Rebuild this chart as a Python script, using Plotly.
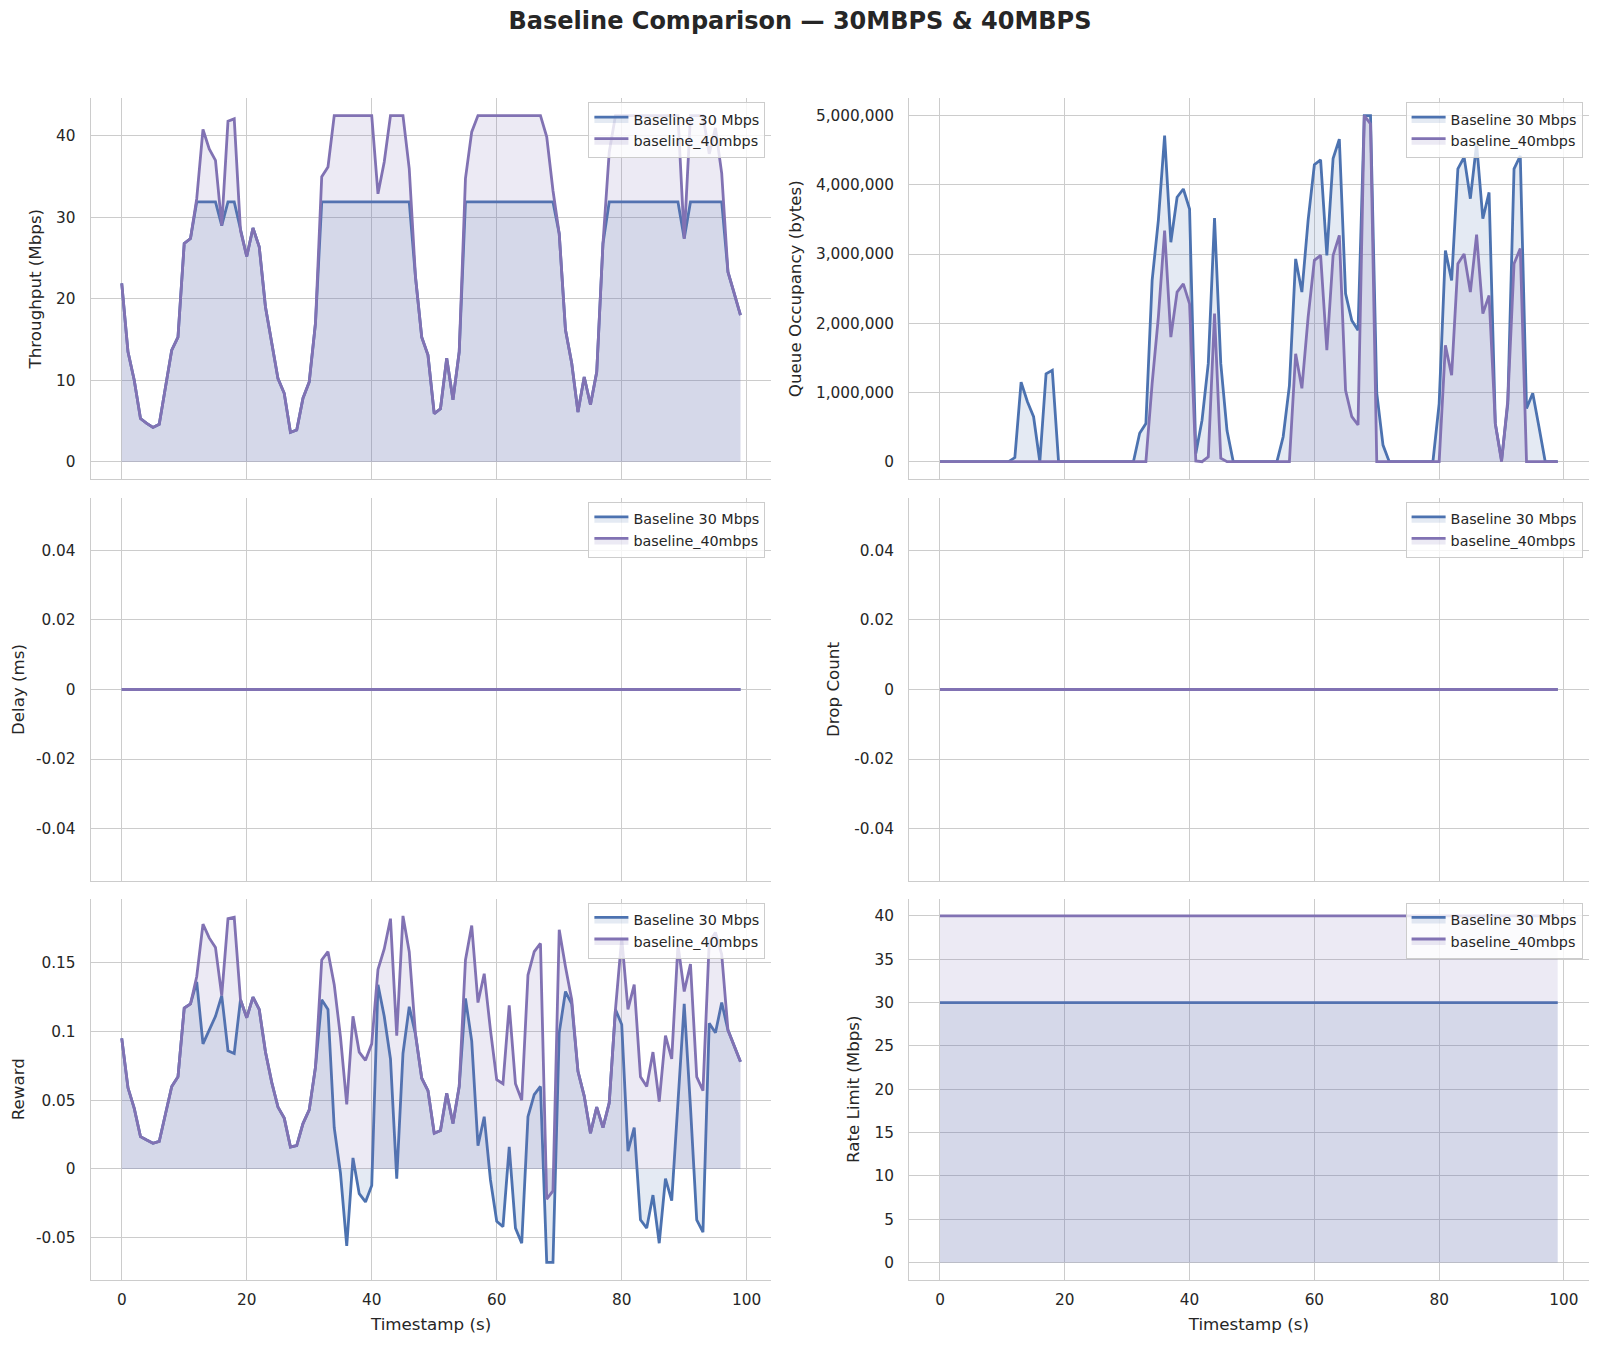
import plotly.graph_objects as go
from plotly.subplots import make_subplots

# ---- data ----
timestamps = list(range(100))

thr_30 = [21.9, 13.5, 10.0, 5.3, 4.7, 4.2, 4.6, 9.2, 13.7, 15.3,
          26.8, 27.4, 31.9, 31.9, 31.9, 31.9, 29.0, 31.9, 31.9, 28.4,
          25.2, 28.7, 26.4, 19.0, 14.5, 10.2, 8.4, 3.6, 3.9, 7.8,
          9.8, 17.0, 31.9, 31.9, 31.9, 31.9, 31.9, 31.9, 31.9, 31.9,
          31.9, 31.9, 31.9, 31.9, 31.9, 31.9, 31.9, 22.7, 15.3, 13.1,
          5.9, 6.5, 12.7, 7.6, 13.5, 31.9, 31.9, 31.9, 31.9, 31.9,
          31.9, 31.9, 31.9, 31.9, 31.9, 31.9, 31.9, 31.9, 31.9, 31.9,
          28.0, 16.2, 12.1, 6.1, 10.4, 7.0, 11.0, 26.8, 31.9, 31.9,
          31.9, 31.9, 31.9, 31.9, 31.9, 31.9, 31.9, 31.9, 31.9, 31.9,
          27.4, 31.9, 31.9, 31.9, 31.9, 31.9, 31.9, 23.3, 20.7, 18.0]

thr_40 = [21.9, 13.5, 10.0, 5.3, 4.7, 4.2, 4.6, 9.2, 13.7, 15.3,
          26.8, 27.4, 32.3, 40.8, 38.4, 37.0, 29.0, 41.8, 42.1, 28.4,
          25.2, 28.7, 26.4, 19.0, 14.5, 10.2, 8.4, 3.6, 3.9, 7.8,
          9.8, 17.0, 35.0, 36.2, 42.5, 42.5, 42.5, 42.5, 42.5, 42.5,
          42.5, 32.9, 36.8, 42.5, 42.5, 42.5, 36.0, 22.7, 15.3, 13.1,
          5.9, 6.5, 12.7, 7.6, 13.5, 34.8, 40.5, 42.5, 42.5, 42.5,
          42.5, 42.5, 42.5, 42.5, 42.5, 42.5, 42.5, 42.5, 39.9, 33.3,
          28.0, 16.2, 12.1, 6.1, 10.4, 7.0, 11.0, 26.8, 38.0, 42.5,
          42.5, 42.5, 42.5, 42.5, 42.5, 42.5, 42.5, 42.5, 42.5, 42.5,
          27.4, 42.5, 42.5, 42.5, 37.8, 41.0, 35.4, 23.3, 20.7, 18.0]

queue_30 = [0, 0, 0, 0, 0, 0, 0, 0, 0, 0,
            0, 0, 60000, 1150000, 870000, 650000, 0, 1270000, 1320000, 0,
            0, 0, 0, 0, 0, 0, 0, 0, 0, 0,
            0, 0, 410000, 550000, 2620000, 3490000, 4710000, 3170000, 3820000, 3940000,
            3650000, 120000, 600000, 1420000, 3520000, 1420000, 450000, 0, 0, 0,
            0, 0, 0, 0, 0, 360000, 1100000, 2930000, 2450000, 3490000,
            4290000, 4360000, 2980000, 4380000, 4660000, 2430000, 2040000, 1900000, 5000000, 5000000,
            990000, 240000, 0, 0, 0, 0, 0, 0, 0, 0,
            840000, 3050000, 2620000, 4230000, 4400000, 3800000, 4590000, 3510000, 3890000, 550000,
            20000, 840000, 4230000, 4420000, 770000, 990000, 500000, 0, 0, 0]

queue_40 = [0, 0, 0, 0, 0, 0, 0, 0, 0, 0,
            0, 0, 0, 0, 0, 0, 0, 0, 0, 0,
            0, 0, 0, 0, 0, 0, 0, 0, 0, 0,
            0, 0, 0, 0, 1130000, 2090000, 3340000, 1800000, 2450000, 2570000,
            2280000, 10000, 0, 70000, 2140000, 50000, 0, 0, 0, 0,
            0, 0, 0, 0, 0, 0, 0, 1560000, 1060000, 2090000,
            2910000, 2980000, 1610000, 2980000, 3270000, 1030000, 650000, 530000, 5000000, 4880000,
            0, 0, 0, 0, 0, 0, 0, 0, 0, 0,
            0, 1680000, 1250000, 2860000, 3000000, 2450000, 3280000, 2140000, 2400000, 550000,
            0, 890000, 2860000, 3080000, 0, 0, 0, 0, 0, 0]

delay_30 = [0.0] * 100
delay_40 = [0.0] * 100
drops_30 = [0] * 100
drops_40 = [0] * 100

reward_30 = [0.095, 0.059, 0.044, 0.0235, 0.021, 0.0187, 0.020, 0.039, 0.060, 0.067,
             0.117, 0.120, 0.136, 0.091, 0.101, 0.111, 0.126, 0.086, 0.084, 0.123,
             0.110, 0.125, 0.116, 0.085, 0.063, 0.045, 0.037, 0.016, 0.017, 0.033,
             0.043, 0.074, 0.123, 0.116, 0.030, -0.003, -0.056, 0.008, -0.018, -0.024,
             -0.012, 0.134, 0.111, 0.080, -0.007, 0.084, 0.118, 0.098, 0.066, 0.057,
             0.026, 0.028, 0.055, 0.033, 0.060, 0.124, 0.093, 0.017, 0.038, -0.008,
             -0.038, -0.042, 0.016, -0.043, -0.054, 0.038, 0.054, 0.060, -0.068, -0.068,
             0.099, 0.129, 0.120, 0.071, 0.053, 0.026, 0.045, 0.030, 0.048, 0.116,
             0.105, 0.013, 0.030, -0.037, -0.043, -0.019, -0.054, -0.007, -0.023, 0.050,
             0.120, 0.045, -0.037, -0.046, 0.106, 0.099, 0.121, 0.101, 0.089, 0.078]

reward_40 = [0.095, 0.059, 0.044, 0.0235, 0.021, 0.0187, 0.020, 0.039, 0.060, 0.067,
             0.117, 0.120, 0.140, 0.178, 0.168, 0.161, 0.126, 0.182, 0.183, 0.123,
             0.110, 0.125, 0.116, 0.085, 0.063, 0.045, 0.037, 0.016, 0.017, 0.033,
             0.043, 0.074, 0.152, 0.158, 0.134, 0.096, 0.047, 0.111, 0.085, 0.079,
             0.091, 0.145, 0.160, 0.182, 0.097, 0.184, 0.158, 0.098, 0.066, 0.057,
             0.026, 0.028, 0.055, 0.033, 0.060, 0.152, 0.177, 0.121, 0.142, 0.101,
             0.065, 0.062, 0.119, 0.062, 0.050, 0.141, 0.158, 0.164, -0.022, -0.016,
             0.174, 0.147, 0.123, 0.071, 0.053, 0.026, 0.045, 0.030, 0.048, 0.116,
             0.168, 0.116, 0.134, 0.067, 0.060, 0.085, 0.049, 0.097, 0.080, 0.163,
             0.129, 0.149, 0.067, 0.057, 0.165, 0.172, 0.156, 0.101, 0.089, 0.078]

rate_30 = [30] * 100
rate_40 = [40] * 100

series_names = ["Baseline 30 Mbps", "baseline_40mbps"]

BLUE = "#4C72B0"
PURPLE = "#8172B3"
FILLS = ["rgba(76,114,176,0.15)", "rgba(129,114,179,0.15)"]
TEXT = "#262626"
GRID = "#cccccc"
FONT = "DejaVu Sans"

panels = [
    (1, 1, thr_30, thr_40, "Throughput (Mbps)"),
    (1, 2, queue_30, queue_40, "Queue Occupancy (bytes)"),
    (2, 1, delay_30, delay_40, "Delay (ms)"),
    (2, 2, drops_30, drops_40, "Drop Count"),
    (3, 1, reward_30, reward_40, "Reward"),
    (3, 2, rate_30, rate_40, "Rate Limit (Mbps)"),
]

fig = make_subplots(rows=3, cols=2)

W, H = 1600, 1345
OFF = 8  # page body margin in the browser
col_px = {1: (90.8, 771.4), 2: (909.1, 1588.6)}
row_px = {1: (98.3, 479.0), 2: (498.0, 881.0), 3: (898.6, 1279.8)}

yranges = {
    (1, 1): [-2.125, 44.625],
    (1, 2): [-250000, 5250000],
    (2, 1): [-0.055, 0.055],
    (2, 2): [-0.055, 0.055],
    (3, 1): [-0.0806, 0.1966],
    (3, 2): [-2, 42],
}

small_vals = [-0.04, -0.02, 0, 0.02, 0.04]
small_text = ["-0.04", "-0.02", "0", "0.02", "0.04"]
rew_vals = [-0.05, 0, 0.05, 0.1, 0.15]
rew_text = ["-0.05", "0", "0.05", "0.1", "0.15"]

for i, (r, c, a, b, ytitle) in enumerate(panels):
    leg = "legend" if i == 0 else f"legend{i + 1}"
    for name, ys, col, fc in zip(series_names, [a, b], [BLUE, PURPLE], FILLS):
        fig.add_trace(go.Scatter(
            x=timestamps, y=ys, mode="lines", name=name,
            line=dict(color=col, width=2.8),
            fill="tozeroy", fillcolor=fc,
            legend=leg,
        ), row=r, col=c)

    x0, x1 = col_px[c]
    y0, y1 = row_px[r]
    n = i + 1
    xkey = "xaxis" if n == 1 else f"xaxis{n}"
    ykey = "yaxis" if n == 1 else f"yaxis{n}"

    xaxis = dict(
        domain=[(x0 - OFF) / W, (x1 - OFF) / W], range=[-4.95, 103.95],
        tickvals=[0, 20, 40, 60, 80, 100],
        showgrid=True, gridcolor=GRID, gridwidth=1,
        showline=True, linecolor=GRID, linewidth=1.3,
        zeroline=False, ticks="", showticklabels=(r == 3),
        tickfont=dict(size=15.3, color=TEXT), ticklabelstandoff=6,
    )
    if r == 3:
        xaxis["title"] = dict(text="Timestamp (s)", font=dict(size=16.7, color=TEXT), standoff=9)

    yaxis = dict(
        domain=[1 - (y1 - OFF) / H, 1 - (y0 - OFF) / H], range=yranges[(r, c)],
        showgrid=True, gridcolor=GRID, gridwidth=1,
        showline=True, linecolor=GRID, linewidth=1.3,
        zeroline=False, ticks="",
        tickfont=dict(size=15.3, color=TEXT), ticklabelstandoff=11,
        title=dict(text=ytitle, font=dict(size=16.7, color=TEXT), standoff=10),
    )
    if (r, c) == (1, 1):
        yaxis["tickvals"] = [0, 10, 20, 30, 40]
    elif (r, c) == (1, 2):
        yaxis["tickvals"] = [0, 1000000, 2000000, 3000000, 4000000, 5000000]
        yaxis["tickformat"] = ",d"
    elif r == 2:
        yaxis["tickvals"] = small_vals
        yaxis["ticktext"] = small_text
    elif (r, c) == (3, 1):
        yaxis["tickvals"] = rew_vals
        yaxis["ticktext"] = rew_text
    else:
        yaxis["tickvals"] = [0, 5, 10, 15, 20, 25, 30, 35, 40]

    legend = dict(
        x=(x1 - 6 - OFF) / W, y=1 - (y0 + 4 - OFF) / H, xanchor="right", yanchor="top",
        bgcolor="rgba(255,255,255,0.8)", bordercolor=GRID, borderwidth=1,
        font=dict(size=14.3, color=TEXT, family=FONT),
        itemwidth=34, tracegroupgap=0,
    )
    fig.update_layout({xkey: xaxis, ykey: yaxis, leg: legend})

fig.update_layout(
    width=W, height=H,
    margin=dict(l=0, r=0, t=0, b=0),
    plot_bgcolor="white", paper_bgcolor="white",
    font=dict(family=FONT, color=TEXT),
    title=dict(
        text="<b>Baseline Comparison — 30MBPS & 40MBPS</b>",
        x=(800 - OFF) / W, xanchor="center", y=1 - (21 - OFF) / H, yanchor="middle",
        font=dict(size=24, color=TEXT, family=FONT),
    ),
    showlegend=True,
)

fig.write_html("out.html")
